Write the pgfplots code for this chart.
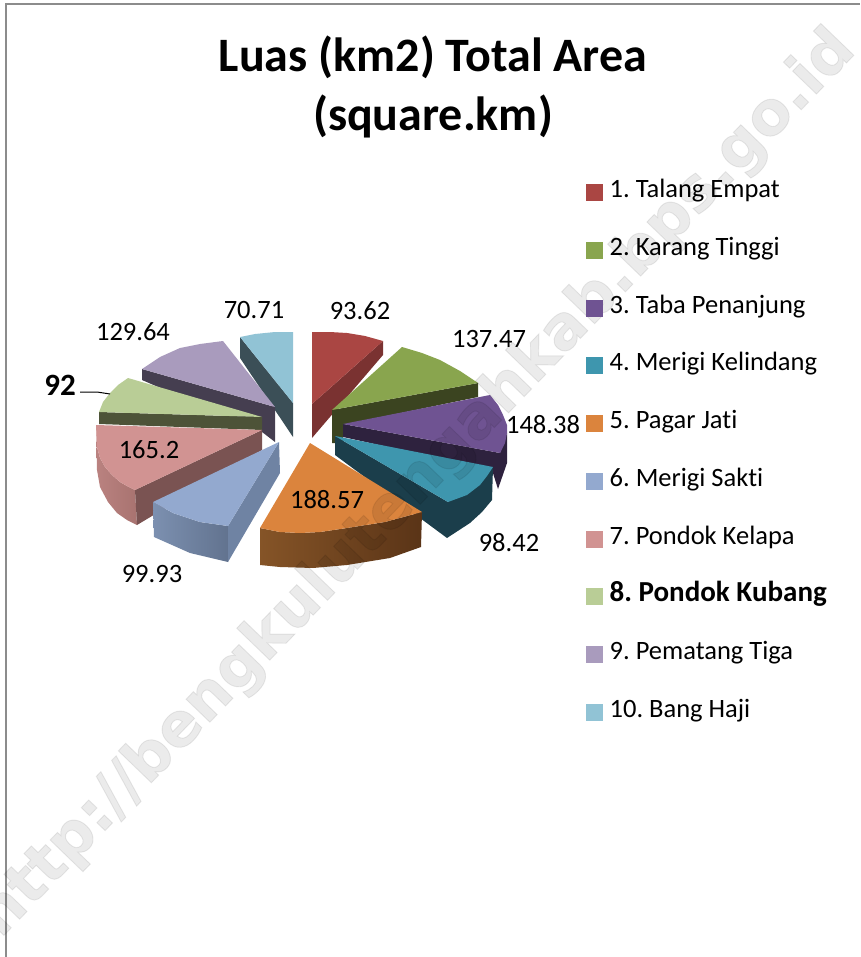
\documentclass[border=0pt]{standalone}
\usepackage{fontspec}
\usepackage{pgfplots}
\pgfplotsset{compat=1.18}
\setmainfont[Ligatures=NoCommon]{Carlito}
\newfontfamily\wmfont[BoldFeatures={FakeBold=1.5}]{DejaVu Sans}
\frenchspacing
\definecolor{cA}{HTML}{AA4643}\definecolor{cAs}{HTML}{7A3231}
\definecolor{cB}{HTML}{89A54E}\definecolor{cBs}{HTML}{3B4420}
\definecolor{cC}{HTML}{6F5392}\definecolor{cCs}{HTML}{2E223E}
\definecolor{cD}{HTML}{3E96AE}\definecolor{cDs}{HTML}{1B3E4B}
\definecolor{cE}{HTML}{DB843D}\definecolor{cEl}{HTML}{855427}\definecolor{cEr}{HTML}{5A3417}
\definecolor{cF}{HTML}{93A9CF}\definecolor{cFs}{HTML}{6F83A3}\definecolor{cFl}{HTML}{7C90B0}\definecolor{cFr}{HTML}{62738F}
\definecolor{cG}{HTML}{D19392}\definecolor{cGs}{HTML}{7A5352}\definecolor{cGl}{HTML}{BA8280}\definecolor{cGr}{HTML}{A87370}
\definecolor{cH}{HTML}{B9CD96}\definecolor{cHs}{HTML}{4D5338}
\definecolor{cI}{HTML}{A99BBD}\definecolor{cIs}{HTML}{453E50}
\definecolor{cJ}{HTML}{91C3D5}\definecolor{cJs}{HTML}{3B4F57}
\definecolor{frame}{HTML}{8C8C8C}
\pgfplotsset{
  wedge/.style={fill=#1,draw=none,forget plot},
  swatch/.style={
    legend image code/.code={\path[##1,draw=none] (0pt,-8.5pt) rectangle (17pt,8.5pt);}},
}
\begin{document}
\begin{tikzpicture}
\path[use as bounding box,clip] (0,0) rectangle (860pt,957pt);
\begin{axis}[
    at={(0pt,0pt)},anchor=south west,
    scale only axis,width=860pt,height=957pt,
    xmin=0,xmax=860,ymin=0,ymax=957,y dir=reverse,
    hide axis,clip=false,
    swatch,
    legend cell align=left,
    legend style={at={(0.681,0.8110)},anchor=north west,draw=none,fill=none,
      font=\fontsize{26.5}{26.5}\selectfont,
      inner sep=0pt,outer sep=0pt,row sep=33.7pt,column sep=7pt,
      nodes={inner sep=0pt,text height=17pt,text depth=7pt}},
]
% frame
\addplot[frame,line width=2pt,forget plot] coordinates {(6,957)(6,4)(860,4)};

% 10 Bang Haji
\addplot[wedge=cJs] coordinates {(240,337)(293,403)(293,437)(240,358)} -- cycle;
\addplot[wedge=cJ] coordinates {(293,403)(240,337)(255,334)(275,332)(293,332)} -- cycle;
% 1 Talang Empat
\addplot[wedge=cAs] coordinates {(383,341)(312,404)(312,438)(383,355)} -- cycle;
\addplot[wedge=cA] coordinates {(312,404)(312,332)(330,332)(347,333)(365,336)(383,341)} -- cycle;
% 9 Pematang Tiga
\addplot[wedge=cIs] coordinates {(142,369)(275,407)(275,442)(262,432)(142,380)} -- cycle;
\addplot[wedge=cI] coordinates {(275,407)(142,369)(160,357)(180,348)(200,344)(223,341)} -- cycle;
% 2 Karang Tinggi
\addplot[wedge=cBs] coordinates {(332,410)(478,383)(478,397)(343,425)(343,443)(332,443)} -- cycle;
\addplot[wedge=cB] coordinates {(332,410)(402,347)(422,353)(440,360)(460,371)(478,383)} -- cycle;
% 8 Pondok Kubang
\addplot[wedge=cHs] coordinates {(99,412)(262,417)(262,430)(99,424)} -- cycle;
\addplot[wedge=cH] coordinates {(262,417)(99,412)(103,402)(110,393)(118,385)(128,378)} -- cycle;
% 3 Taba Penanjung
\addplot[wedge=cCs] coordinates {(343,424)(500,453)(507,433)(507,463)(498,489)(492,470)(343,437)} -- cycle;
\addplot[wedge=cC] coordinates {(343,424)(490,395)(498,405)(503,415)(507,425)(507,433)(505,443)(500,453)} -- cycle;
% 7 Pondok Kelapa
\addplot[left color=cGl,right color=cGr,draw=none,forget plot] coordinates {(96,425)(97,447)(100,458)(105,467)(112,475)(120,482)(127,486)(135,490)(137,525)(127,520)(117,513)(108,502)(100,487)(97,470)} -- cycle;
\addplot[wedge=cGs] coordinates {(135,490)(262,430)(262,450)(137,525)} -- cycle;
\addplot[wedge=cG] coordinates {(262,430)(135,490)(127,486)(120,482)(112,475)(105,467)(100,458)(97,447)(96,425)} -- cycle;
% 4 Merigi Kelindang
\addplot[wedge=cDs] coordinates {(335,436)(448,502)(493,467)(492,500)(482,512)(470,523)(447,538)(335,455)} -- cycle;
\addplot[wedge=cD] coordinates {(335,436)(493,467)(487,476)(480,485)(467,495)(448,502)} -- cycle;
% 6 Merigi Sakti
\addplot[left color=cFl,right color=cFr,draw=none,forget plot] coordinates {(153,502)(173,513)(200,522)(228,526)(228,562)(190,553)(154,537)} -- cycle;
\addplot[wedge=cFs] coordinates {(279,442)(228,526)(228,562)(280,473)} -- cycle;
\addplot[wedge=cF] coordinates {(279,442)(228,526)(200,522)(173,513)(153,502)} -- cycle;
% 5 Pagar Jati
\addplot[left color=cEl,right color=cEr,draw=none,forget plot] coordinates {(260,528)(280,532)(300,533)(320,532)(347,528)(385,522)(422,512)(421,547)(390,558)(347,565)(313,568)(280,567)(260,565)} -- cycle;
\addplot[wedge=cE] coordinates {(310,443)(422,512)(385,522)(347,528)(320,532)(300,533)(280,532)(260,528)} -- cycle;
% leader line for 92
\addplot[black,line width=1pt,forget plot] coordinates {(80,392)(97,392)(110,394)};

\addlegendimage{fill=cA}\addlegendentry{1. Talang Empat}
\addlegendimage{fill=cB}\addlegendentry{2. Karang Tinggi}
\addlegendimage{fill=cC}\addlegendentry{3. Taba Penanjung}
\addlegendimage{fill=cD}\addlegendentry{4. Merigi Kelindang}
\addlegendimage{fill=cE}\addlegendentry{5. Pagar Jati}
\addlegendimage{fill=cF}\addlegendentry{6. Merigi Sakti}
\addlegendimage{fill=cG}\addlegendentry{7. Pondok Kelapa}
\addlegendimage{fill=cH}\addlegendentry{\fontsize{29}{29}\selectfont\textbf{8. Pondok Kubang}}
\addlegendimage{fill=cI}\addlegendentry{9. Pematang Tiga}
\addlegendimage{fill=cJ}\addlegendentry{10. Bang Haji}

% title
\node[font=\fontsize{48}{59}\selectfont\bfseries,align=center] at (axis cs:433,87) {Luas (km2) Total Area\\(square.km)};
% data labels
\begin{scope}[every node/.style={font=\fontsize{26.5}{26.5}\selectfont}]
\node at (axis cs:360,311) {93.62};
\node at (axis cs:489,339) {137.47};
\node at (axis cs:543,425) {148.38};
\node at (axis cs:509,543) {98.42};
\node at (axis cs:327,500) {188.57};
\node at (axis cs:152,574) {99.93};
\node at (axis cs:149,450) {165.2};
\node[font=\fontsize{31}{31}\selectfont\bfseries] at (axis cs:60,385) {92};
\node at (axis cs:133,332) {129.64};
\node at (axis cs:254,310) {70.71};
\end{scope}
% watermark
\node[rotate=46,text opacity=0.08,font=\wmfont\fontsize{60.4}{60.4}\selectfont\bfseries] at (axis cs:417,484) {http://bengkulutengahkab.bps.go.id};
\end{axis}
\end{tikzpicture}
\end{document}
